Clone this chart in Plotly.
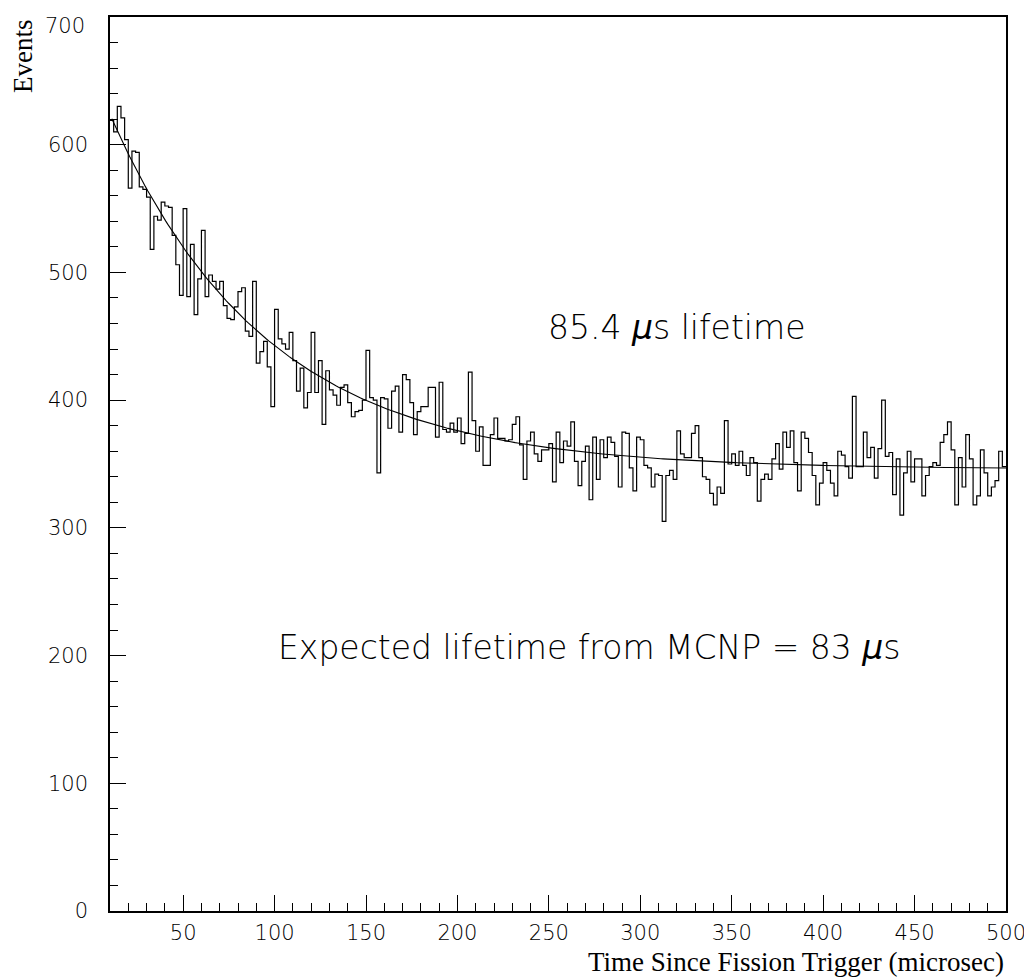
import numpy as np
import plotly.graph_objects as go

# histograma: 245 bins de 2 microsec, de 10 a 500
bin_start = 10
bin_width = 2
counts = [
    619, 610, 630, 621, 604, 566, 595, 594, 567, 565,
    559, 518, 544, 541, 555, 552, 551, 529, 506, 482,
    550, 481, 522, 467, 495, 533, 481, 498, 493, 487,
    493, 474, 464, 463, 473, 485, 488, 454, 450, 493,
    429, 438, 446, 426, 395, 471, 448, 444, 440, 453,
    431, 407, 425, 394, 406, 453, 406, 431, 381, 423,
    408, 404, 396, 410, 412, 398, 387, 391, 392, 400,
    439, 402, 400, 343, 402, 401, 378, 407, 411, 375,
    420, 416, 398, 373, 391, 395, 395, 410, 410, 371,
    414, 377, 375, 382, 375, 386, 366, 374, 422, 384,
    360, 379, 349, 349, 373, 386, 370, 370, 368, 369,
    381, 387, 365, 338, 368, 375, 358, 352, 361, 361,
    366, 336, 375, 351, 368, 364, 383, 352, 333, 352,
    364, 322, 371, 338, 369, 355, 371, 367, 356, 332,
    375, 374, 347, 329, 371, 369, 349, 347, 332, 342,
    341, 305, 341, 345, 338, 376, 358, 355, 355, 374,
    380, 355, 340, 338, 327, 318, 332, 327, 384, 350,
    358, 349, 360, 349, 341, 355, 351, 321, 338, 342,
    338, 354, 366, 346, 375, 363, 376, 351, 329, 375,
    370, 359, 341, 318, 335, 351, 345, 335, 325, 360,
    357, 348, 339, 403, 348, 348, 375, 355, 363, 339,
    362, 400, 356, 359, 326, 354, 310, 343, 360, 336,
    354, 354, 325, 341, 348, 351, 349, 367, 373, 383,
    361, 318, 355, 332, 373, 354, 318, 325, 361, 343,
    325, 332, 337, 360, 348,
]

# ajuste exponencial + constante
fit_tau = 85.4
fit_amp = 312
fit_const = 346
fit_t0 = 11
fit_t1 = 500

x_ticks = list(range(50, 501, 50))
y_ticks = list(range(0, 701, 100))
# o rótulo 700 fica num annotation, logo abaixo da borda (como no original)
y_ticktext = [str(v) for v in y_ticks[:-1]] + ['']

edges = bin_start + bin_width * np.arange(len(counts) + 1)
hist_y = counts + [counts[-1]]

t = np.linspace(fit_t0, fit_t1, 400)
fit_y = fit_const + fit_amp * np.exp(-t / fit_tau)

fig = go.Figure()
fig.add_trace(go.Scatter(x=edges, y=hist_y, mode='lines', line_shape='hv',
                         line=dict(color='black', width=1.2), showlegend=False))
fig.add_trace(go.Scatter(x=t, y=fit_y, mode='lines',
                         line=dict(color='black', width=1.1), showlegend=False))

tick_font = dict(family='DejaVu Sans', size=21, color='black', weight=200)
note_font = dict(family='DejaVu Sans', size=33, color='black', weight=200)
title_font = dict(family='Liberation Serif', size=27, color='black')

# a página tem margem de 8px no body, por isso as margens compensam
fig.update_layout(
    width=1032, height=980,
    margin=dict(l=102, r=34, t=9, b=77),
    plot_bgcolor='white', paper_bgcolor='white',
    xaxis=dict(range=[10, 500], tickvals=x_ticks,
               ticks='inside', ticklen=16, tickwidth=1.3, tickcolor='black',
               minor=dict(dtick=10, tick0=0, ticks='inside', ticklen=8, tickwidth=1.2, tickcolor='black'),
               showline=True, linecolor='black', linewidth=1.5, mirror=True,
               showgrid=False, zeroline=False, tickfont=tick_font, ticklabelstandoff=2,
               ticklabeloverflow='allow', automargin=False),
    yaxis=dict(range=[0, 700], tickvals=y_ticks, ticktext=y_ticktext,
               ticks='inside', ticklen=16, tickwidth=1.3, tickcolor='black',
               minor=dict(dtick=20, tick0=0, ticks='inside', ticklen=8, tickwidth=1.2, tickcolor='black'),
               showline=True, linecolor='black', linewidth=1.5, mirror=True,
               showgrid=False, zeroline=False, tickfont=tick_font, ticklabelstandoff=16,
               ticklabeloverflow='allow', automargin=False),
    annotations=[
        dict(text=str(y_ticks[-1]), x=-0.0257, y=1, xref='paper', yref='paper',
             xanchor='right', yanchor='top', yshift=5, showarrow=False, font=tick_font),
        dict(text='85.4 <i>μ</i>s lifetime', x=320, y=457, xref='x', yref='y',
             showarrow=False, font=note_font),
        dict(text='Expected lifetime from MCNP = 83 <i>μ</i>s', x=272, y=206, xref='x', yref='y',
             showarrow=False, font=note_font),
        dict(text='Time Since Fission Trigger (microsec)', x=1, y=-0.057, xref='paper', yref='paper',
             xanchor='right', yanchor='middle', showarrow=False, font=title_font),
        dict(text='Events', x=-0.0971, y=1, xref='paper', yref='paper', textangle=-90,
             xanchor='center', yanchor='top', showarrow=False, font=title_font),
    ],
)

fig.write_html('out.html')
